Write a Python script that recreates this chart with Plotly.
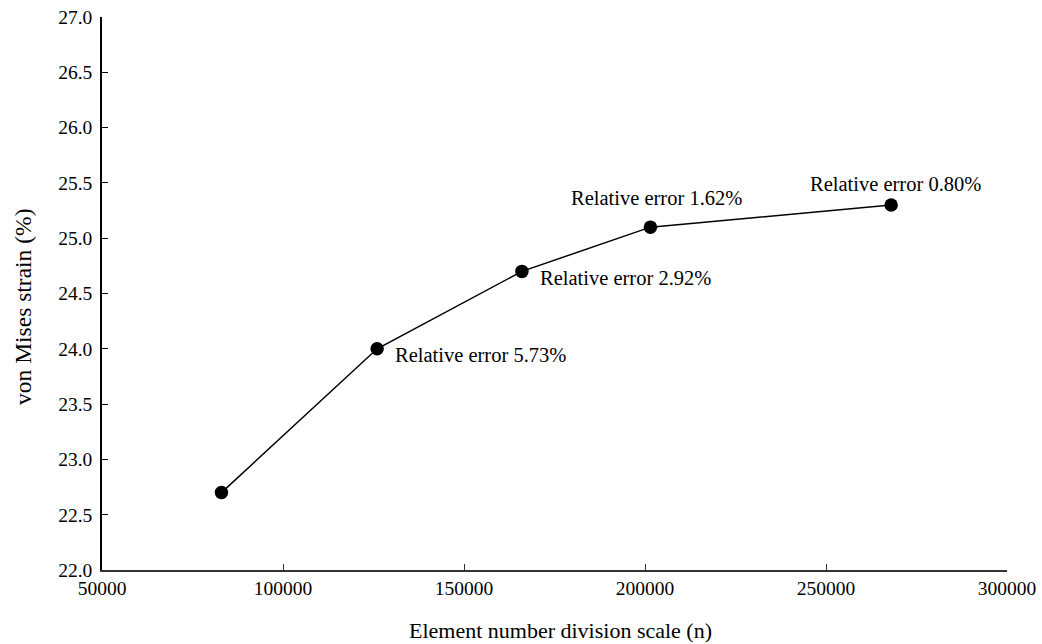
import plotly.graph_objects as go

element_counts = [83000, 126000, 166000, 201500, 268000]
strain_values = [22.7, 24.0, 24.7, 25.1, 25.3]
error_labels = ["", "Relative error 5.73%", "Relative error 2.92%",
                "Relative error 1.62%", "Relative error 0.80%"]
x_title = "Element number division scale (n)"
y_title = "von Mises strain (%)"

FONT = "Liberation Serif"

fig = go.Figure()
fig.add_trace(go.Scatter(
    x=element_counts, y=strain_values, mode="lines+markers",
    line=dict(color="black", width=1.5),
    marker=dict(color="black", size=13.5),
    showlegend=False, hoverinfo="skip", cliponaxis=False))

# annotation placements: (xanchor, yanchor, xshift, yshift)
placements = [None,
              ("left", "middle", 16, -6),
              ("left", "middle", 16, -7),
              ("center", "bottom", 6, 16),
              ("center", "bottom", 4, 8)]
for xv, yv, lab, pl in zip(element_counts, strain_values, error_labels, placements):
    if not lab:
        continue
    xa, ya, xs, ys = pl
    fig.add_annotation(x=xv, y=yv, text=lab, showarrow=False,
                       xanchor=xa, yanchor=ya, xshift=xs, yshift=ys,
                       font=dict(family=FONT, size=20.5, color="black"))

# axis titles as paper-anchored annotations
fig.add_annotation(xref="paper", yref="paper", x=0.5066, y=0, yshift=-60,
                   xanchor="center", yanchor="middle", showarrow=False,
                   text=x_title, font=dict(family=FONT, size=22, color="black"))
fig.add_annotation(xref="paper", yref="paper", x=0, xshift=-79, y=0.4756,
                   xanchor="center", yanchor="middle", showarrow=False, textangle=-90,
                   text=y_title, font=dict(family=FONT, size=23.5, color="black"))

fig.update_layout(
    width=1042, height=644,
    margin=dict(l=102, r=35, t=17, b=74),
    plot_bgcolor="white", paper_bgcolor="white",
    font=dict(family=FONT, size=19.5, color="black"),
)
fig.update_xaxes(
    range=[50000, 300000], tickvals=[50000, 100000, 150000, 200000, 250000, 300000],
    ticktext=["50000", "100000", "150000", "200000", "250000", "300000"],
    automargin=False, ticklabeloverflow="allow",
    showgrid=False, zeroline=False, showline=True, linecolor="#333", linewidth=1.5,
    ticks="inside", ticklen=6, tickcolor="#333", tickwidth=1.2,
    tickfont=dict(family=FONT, size=19.5))
fig.update_yaxes(
    range=[22.0, 27.0], dtick=0.5, tickformat=".1f",
    automargin=False, ticklabeloverflow="allow",
    showgrid=False, zeroline=False, showline=True, linecolor="black", linewidth=1.5,
    ticks="inside", ticklen=6, tickcolor="black", tickwidth=1.2,
    ticklabelstandoff=4,
    tickfont=dict(family=FONT, size=19.5))

fig.write_html("out.html", config={"displayModeBar": False},
               post_script="document.body.style.margin='0';document.body.style.overflow='hidden';")
